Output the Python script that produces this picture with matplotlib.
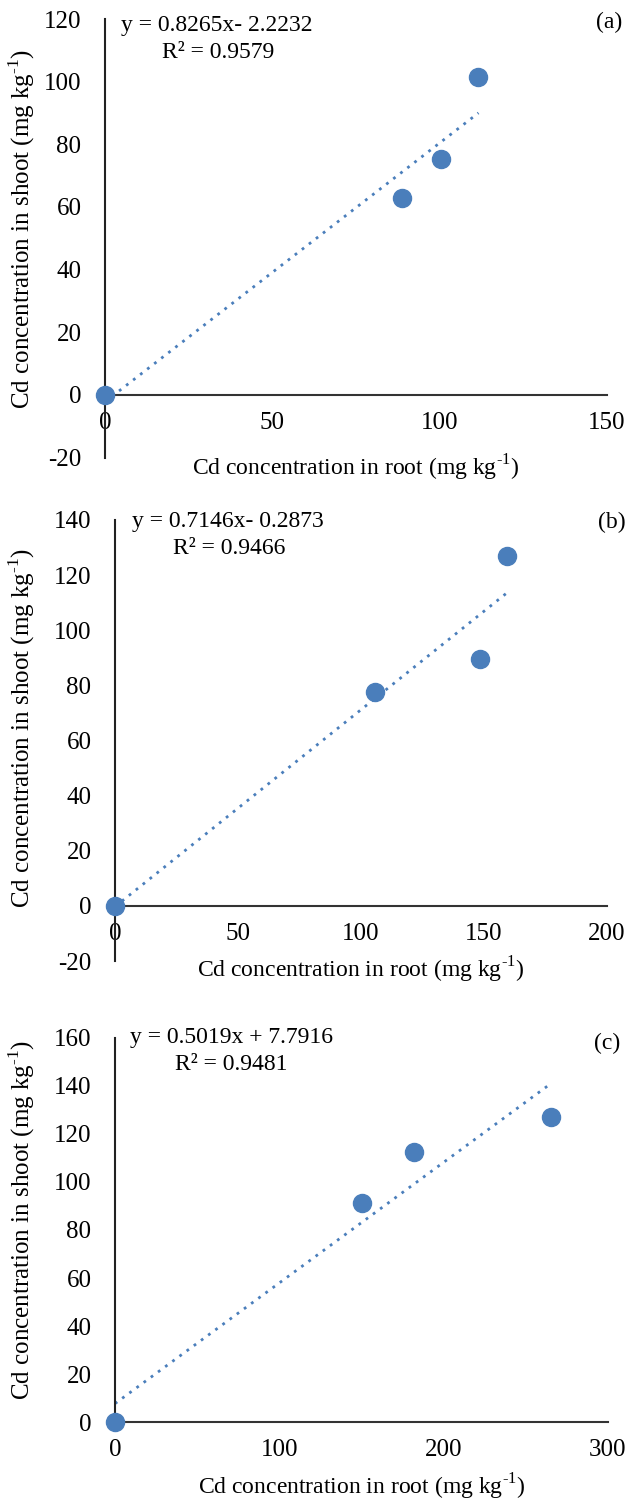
import matplotlib
matplotlib.use("Agg")
from matplotlib import pyplot as plt

# panel (a)
root_a = [0, 88.7, 100.4, 111.6]
shoot_a = [0, 62.9, 75.3, 101.4]
slope_a, icpt_a = 0.8265, -2.2232
eq_a = "y = 0.8265x- 2.2232"
r2_a = "R\u00b2 = 0.9579"

# panel (b)
root_b = [0, 105.6, 148.4, 159.5]
shoot_b = [0, 77.6, 89.5, 127.0]
slope_b, icpt_b = 0.7146, -0.2873
eq_b = "y = 0.7146x- 0.2873"
r2_b = "R\u00b2 = 0.9466"

# panel (c)
root_c = [0, 150.0, 181.8, 265.1]
shoot_c = [0, 91.4, 112.6, 126.9]
slope_c, icpt_c = 0.5019, 7.7916
eq_c = "y = 0.5019x + 7.7916"
r2_c = "R\u00b2 = 0.9481"

xticks_a = [0, 50, 100, 150]
yticks_a = [-20, 0, 20, 40, 60, 80, 100, 120]
xticks_b = [0, 50, 100, 150, 200]
yticks_b = [-20, 0, 20, 40, 60, 80, 100, 120, 140]
xticks_c = [0, 100, 200, 300]
yticks_c = [0, 20, 40, 60, 80, 100, 120, 140, 160]

W, H = 627, 1501
BLUE = "#4a7ebb"
XLAB = r"Cd concentration in root (mg kg$^{\text{-1}}$)"
YLAB = r"Cd concentration in shoot (mg kg$^{\text{-1}}$)"

plt.rcParams["font.family"] = ["Liberation Serif", "DejaVu Serif"]
plt.rcParams["mathtext.fontset"] = "custom"
plt.rcParams["mathtext.rm"] = "Liberation Serif"
plt.rcParams["axes.unicode_minus"] = False

fig = plt.figure(figsize=(W / 100, H / 100), dpi=100)


def fx(x):
    return x / W


def fy(y):
    return 1 - y / H


def panel(box, x, y, slope, icpt, xticks, yticks, eq, r2, tag, pos):
    # box: left, right, top, bottom in pixels
    left, right, top, bottom = box
    ax = fig.add_axes([fx(left), fy(bottom), fx(right - left), (bottom - top) / H])
    ax.set_xlim(xticks[0], xticks[-1])
    ax.set_ylim(yticks[0], yticks[-1])
    ax.set_xticks(xticks)
    ax.set_yticks(yticks)
    ax.spines["top"].set_visible(False)
    ax.spines["right"].set_visible(False)
    ax.spines["left"].set_position(("data", 0))
    ax.spines["bottom"].set_position(("data", 0))
    ax.spines["left"].set_linewidth(1.5)
    ax.spines["bottom"].set_linewidth(1.5)
    ax.spines["left"].set_color("#222222")
    ax.spines["bottom"].set_color("#333333")
    ax.tick_params(axis="x", length=0, pad=12, labelsize=18)
    ax.tick_params(axis="y", length=0, pad=17, labelsize=18)
    ax.patch.set_visible(False)

    xe = max(x)
    ax.plot([0, xe], [icpt, slope * xe + icpt], linestyle=(0, (1, 2.2)),
            color=BLUE, lw=2.0, clip_on=False)
    ax.plot(x, y, "o", ms=13, color=BLUE, mec=BLUE, clip_on=False, zorder=5)

    (ex, ey), (rx, ry), (tx, ty), xl_y, yl_y = pos
    fig.text(fx(ex), fy(ey), eq, fontsize=17, va="center", ha="left")
    fig.text(fx(rx), fy(ry), r2, fontsize=17, va="center", ha="left")
    fig.text(fx(tx), fy(ty), tag, fontsize=17, va="center", ha="left")
    fig.text(fx((left + right) / 2), fy(xl_y), XLAB, fontsize=17, ha="center", va="center")
    fig.text(fx(22), fy(yl_y), YLAB, fontsize=18, ha="center", va="center", rotation=90)
    return ax


panel((105, 607, 19, 457.5), root_a, shoot_a, slope_a, icpt_a, xticks_a, yticks_a,
      eq_a, r2_a, "(a)",
      ((121, 26), (162, 52), (596, 22), 468, 229))
panel((115, 607, 520, 961), root_b, shoot_b, slope_b, icpt_b, xticks_b, yticks_b,
      eq_b, r2_b, "(b)",
      ((132, 522), (173, 549), (598, 522), 970, 728))
panel((115, 608, 1037.7, 1422.3), root_c, shoot_c, slope_c, icpt_c, xticks_c, yticks_c,
      eq_c, r2_c, "(c)",
      ((130, 1038), (175, 1064), (594, 1043), 1487, 1220))

fig.savefig("out.png", dpi=100)
